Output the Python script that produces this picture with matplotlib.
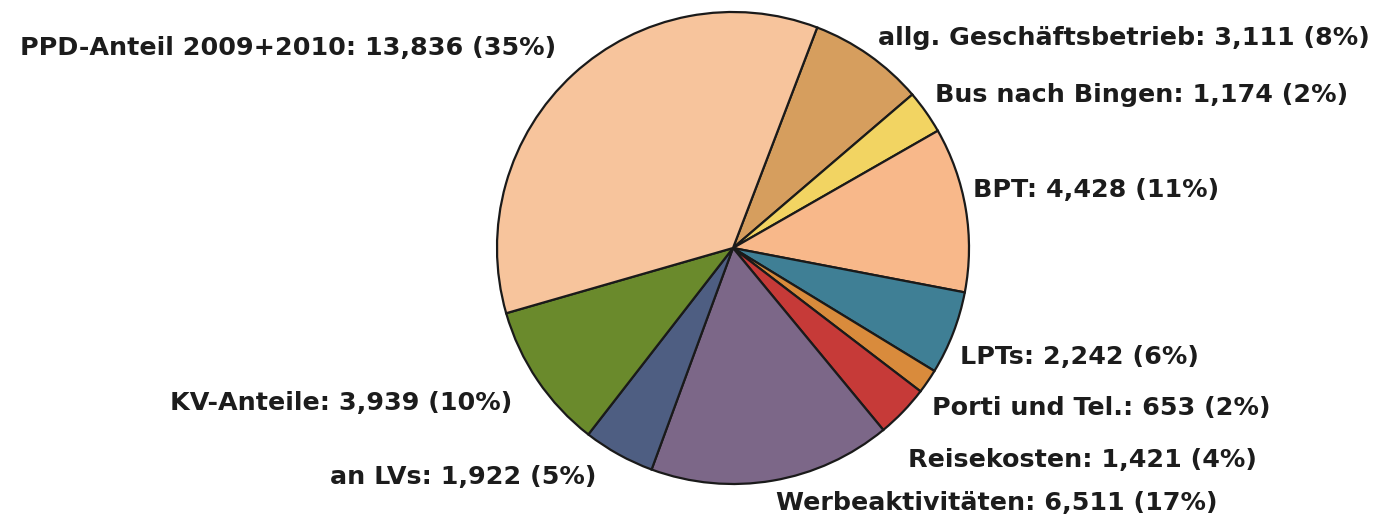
import matplotlib
matplotlib.use("Agg")
import matplotlib.pyplot as plt

# Daten (Reihenfolge im Uhrzeigersinn ab PPD/allg.-Grenze)
kategorien = ["allg. Geschäftsbetrieb", "Bus nach Bingen", "BPT", "LPTs",
              "Porti und Tel.", "Reisekosten", "Werbeaktivitäten", "an LVs",
              "KV-Anteile", "PPD-Anteil 2009+2010"]
werte = [3111, 1174, 4428, 2242, 653, 1421, 6511, 1922, 3939, 13836]
prozent = [8, 2, 11, 6, 2, 4, 17, 5, 10, 35]

farben = ["#D69E5E", "#F2D462", "#F8B88A", "#3F7F95", "#D98B3C",
          "#C63A38", "#7C6788", "#4E5E82", "#6A8A2C", "#F7C49C"]

# Beschriftungspositionen (Pixel, links/mitte)
label_pos = [(878, 481), (935, 424), (973, 329), (960, 162), (932, 111),
             (908, 59), (776, 16), (330, 42), (170, 116), (20, 471)]


def main():
    fig = plt.figure(figsize=(13.81, 5.19), dpi=100)
    ax = fig.add_axes([0, 0, 1, 1])

    ax.pie(werte, colors=farben, startangle=69.1, counterclock=False,
           center=(733, 271), radius=236, frame=True,
           wedgeprops=dict(edgecolor="#1a1a1a", linewidth=1.6))
    ax.set_xlim(0, 1381)
    ax.set_ylim(0, 519)
    ax.set_aspect("auto")
    ax.axis("off")

    for name, w, p, (x, y) in zip(kategorien, werte, prozent, label_pos):
        txt = f"{name}: {w:,} ({p}%)"
        ax.text(x, y, txt, ha="left", va="center", fontsize=18.3,
                fontweight="bold", color="#1c1c1c", family="DejaVu Sans")

    fig.savefig("out.png", dpi=100, facecolor="white")


if __name__ == "__main__":
    main()
